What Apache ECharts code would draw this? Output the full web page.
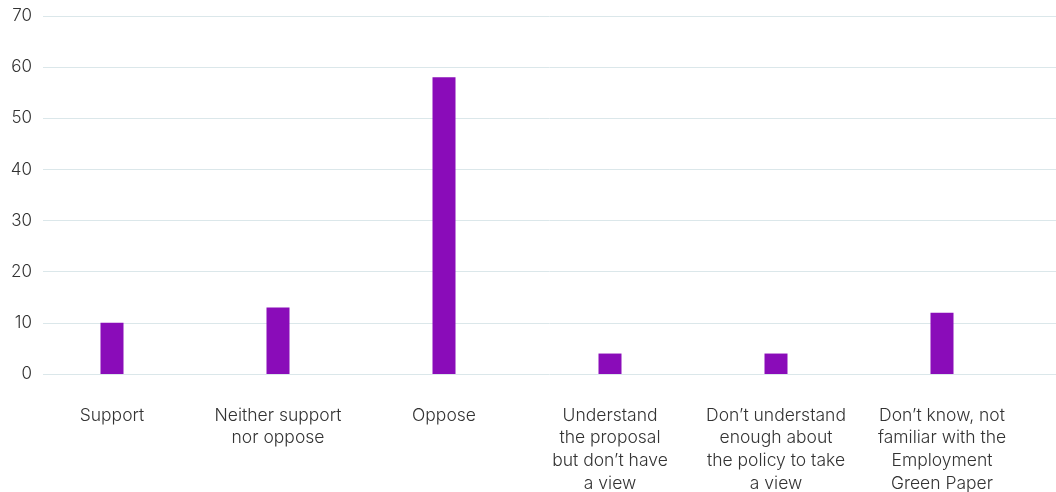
<!DOCTYPE html>
<html>
<head>
<meta charset="utf-8">
<script src="https://cdn.jsdelivr.net/npm/echarts@6/dist/echarts.min.js"></script>
<style>html,body{margin:0;padding:0;background:#fff}#c{width:1056px;height:492px}</style>
</head>
<body>
<div id="c"></div>
<script>
const categories = [
  "Support",
  "Neither support\nnor oppose",
  "Oppose",
  "Understand\nthe proposal\nbut don\u2019t have\na view",
  "Don\u2019t understand\nenough about\nthe policy to take\na view",
  "Don\u2019t know, not\nfamiliar with the\nEmployment\nGreen Paper"
];
const values = [10, 13, 58, 4, 4, 12];
const yTicks = { min: 0, max: 70, interval: 10 };

const font = "Inter, Roboto, sans-serif";
const chart = echarts.init(document.getElementById('c'));
chart.setOption({
  animation: false,
  grid: [
    { left: 43, right: 0, top: 16, bottom: 118, outerBoundsMode: 'none' },
    { left: 29, right: 31, top: 16, bottom: 118, outerBoundsMode: 'none' }
  ],
  xAxis: [
    { gridIndex: 0, type: 'category', data: categories, show: false },
    {
      gridIndex: 1, type: 'category', data: categories,
      axisLine: { show: false }, axisTick: { show: false },
      axisLabel: { interval: 0, color: '#333', fontFamily: font, fontWeight: 300, fontSize: 17.5, lineHeight: 22.7, margin: 30, verticalAlign: 'top' }
    }
  ],
  yAxis: [
    {
      gridIndex: 0, type: 'value', min: yTicks.min, max: yTicks.max, interval: yTicks.interval,
      axisLine: { show: false }, axisTick: { show: false },
      splitLine: { lineStyle: { color: '#dbe7ea', width: 1 } },
      axisLabel: { color: '#333', fontFamily: font, fontWeight: 300, fontSize: 17, margin: 11 }
    },
    {
      gridIndex: 1, type: 'value', min: yTicks.min, max: yTicks.max, interval: yTicks.interval,
      show: false
    }
  ],
  series: [
    { type: 'bar', xAxisIndex: 0, yAxisIndex: 0, data: [] },
    {
      type: 'bar', xAxisIndex: 1, yAxisIndex: 1, data: values, barWidth: 23,
      itemStyle: { color: '#8a0cb9' }
    }
  ]
});
</script>
</body>
</html>
